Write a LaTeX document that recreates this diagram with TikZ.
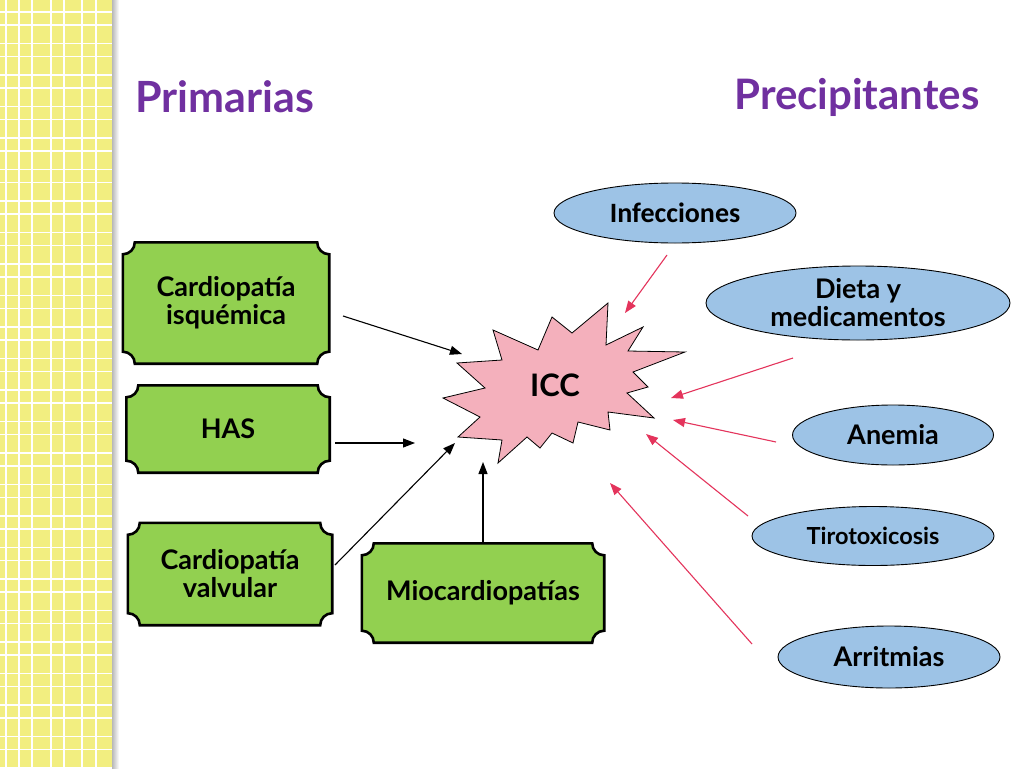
\documentclass[tikz,border=0pt]{standalone}
\usepackage{fontspec}
\setmainfont{Lato}
\newfontfamily\calib{Carlito}
\usetikzlibrary{shapes.geometric,arrows.meta}
\definecolor{stripeY}{RGB}{242,238,128}
\definecolor{plaqueG}{RGB}{146,208,80}
\definecolor{ovalB}{RGB}{157,195,230}
\definecolor{starP}{RGB}{244,176,188}
\definecolor{arrR}{RGB}{228,52,92}
\definecolor{titleP}{RGB}{112,48,160}
\pgfdeclarelayer{bg}
\pgfsetlayers{bg,main}
\newcommand\plaque[1]{%
  \path[plaquepath] ([xshift=12pt]#1.north west) -- ([xshift=-12pt]#1.north east)
    arc[start angle=180,end angle=270,radius=12pt] -- ([yshift=12pt]#1.south east)
    arc[start angle=90,end angle=180,radius=12pt] -- ([xshift=12pt]#1.south west)
    arc[start angle=0,end angle=90,radius=12pt] -- ([yshift=-12pt]#1.north west)
    arc[start angle=270,end angle=360,radius=12pt] -- cycle;}
\tikzset{
  title/.style={text=titleP,font=\bfseries\fontsize{43}{46}\selectfont,inner sep=0pt},
  plaquebox/.style={inner sep=0pt,align=center,font=\bfseries\fontsize{27}{28}\selectfont},
  plaquepath/.style={fill=plaqueG,draw=black,line width=2.6pt},
  oval/.style={ellipse,fill=ovalB,draw=black,line width=0.9pt,inner sep=0pt,align=center,font=\bfseries\fontsize{27}{28}\selectfont},
  blk/.style={draw=black,line width=1.1pt,-{Triangle[length=12pt,width=9pt]}},
  red/.style={draw=arrR,line width=1.1pt,-{Triangle[length=12pt,width=9pt]}},
}
\begin{document}
\begin{tikzpicture}[x=1pt,y=1pt]
\useasboundingbox (0,0) rectangle (1024,-768);
\begin{pgfonlayer}{bg}
\fill[white] (0,0) rectangle (1024,-768);
\fill[stripeY] (0,0) rectangle (112,-768);
\shade[left color=black!28,right color=white] (112,0) rectangle (119,-768);
\foreach \k in {0,...,24} {
  \draw[white,line width=1.5pt] (0,{-12-31.5*\k}) -- (112,{-12-31.5*\k});
  \draw[white,line width=1.5pt] (0,{-25-31.5*\k}) -- (112,{-25-31.5*\k});
}
\foreach \x in {6,19,32,51,64,82,96} {
  \draw[white,line width=1.5pt] (\x,0) -- (\x,-768);
}
\end{pgfonlayer}

% titles
\node[title] (prim) at (225,-97) {Primarias};
\node[title,font=\bfseries\fontsize{42}{46}\selectfont] (prec) at (857,-97) {Precipitantes};

% green plaques
\node[plaquebox,minimum width=206pt,minimum height=121pt] (isq) at (226,-303) {Cardiopatía\\isquémica};
\node[plaquebox,minimum width=203pt,minimum height=87pt] (has) at (228,-429) {HAS};
\node[plaquebox,minimum width=204pt,minimum height=102pt] (val) at (230,-574) {Cardiopatía\\valvular};
\node[plaquebox,minimum width=242pt,minimum height=99pt] (mio) at (483,-593) {Miocardiopatías};
\begin{pgfonlayer}{bg}
\plaque{isq}\plaque{has}\plaque{val}\plaque{mio}
\end{pgfonlayer}

% star
\path[fill=starP,draw=black,line width=0.8pt]
 (608,-303) -- (606,-345) -- (643,-327) -- (628,-351) -- (685,-352) -- (633,-372)
 -- (648,-387) -- (627,-393) -- (654,-418) -- (608,-412) -- (610,-430) -- (578,-422)
 -- (573,-443) -- (552,-433) -- (540,-448) -- (527,-437) -- (498,-463) -- (502,-440)
 -- (458,-437) -- (480,-417) -- (443,-398) -- (485,-388) -- (457,-363) -- (502,-360)
 -- (493,-330) -- (538,-350) -- (552,-317) -- (572,-333) -- cycle;
\node[font=\bfseries\fontsize{31}{34}\selectfont] (icc) at (555,-385) {ICC};

% ovals
\node[oval,minimum width=242pt,minimum height=60pt,font=\calib\bfseries\fontsize{28}{30}\selectfont] (inf) at (675,-213) {Infecciones};
\node[oval,minimum width=304pt,minimum height=74pt] (die) at (858,-303) {Dieta y\\medicamentos};
\node[oval,minimum width=201pt,minimum height=60pt] (ane) at (893,-435) {Anemia};
\node[oval,minimum width=242pt,minimum height=59pt,font=\bfseries\fontsize{23.5}{26}\selectfont] (tir) at (873,-536) {Tirotoxicosis};
\node[oval,minimum width=222pt,minimum height=62pt] (arr) at (889,-657) {Arritmias};

% black arrows
\coordinate (b1s) at (343,-316); \coordinate (b1e) at (462,-354);
\coordinate (b2s) at (335,-443); \coordinate (b2e) at (415,-443);
\coordinate (b3s) at (335,-565); \coordinate (b3e) at (455,-443);
\coordinate (b4e) at (483,-462);
\draw[blk] (b1s) -- (b1e);
\draw[blk] (b2s) -- (b2e);
\draw[blk] (b3s) -- (b3e);
\draw[blk] (mio.north -| b4e) -- (b4e);

% red arrows
\coordinate (r1s) at (667,-255); \coordinate (r1e) at (625,-313);
\coordinate (r2s) at (793,-358); \coordinate (r2e) at (671,-398);
\coordinate (r3s) at (776,-442); \coordinate (r3e) at (673,-420);
\coordinate (r4s) at (748,-516); \coordinate (r4e) at (646,-434);
\coordinate (r5s) at (752,-644); \coordinate (r5e) at (610,-483);
\draw[red] (r1s) -- (r1e);
\draw[red] (r2s) -- (r2e);
\draw[red] (r3s) -- (r3e);
\draw[red] (r4s) -- (r4e);
\draw[red] (r5s) -- (r5e);
\end{tikzpicture}
\end{document}
